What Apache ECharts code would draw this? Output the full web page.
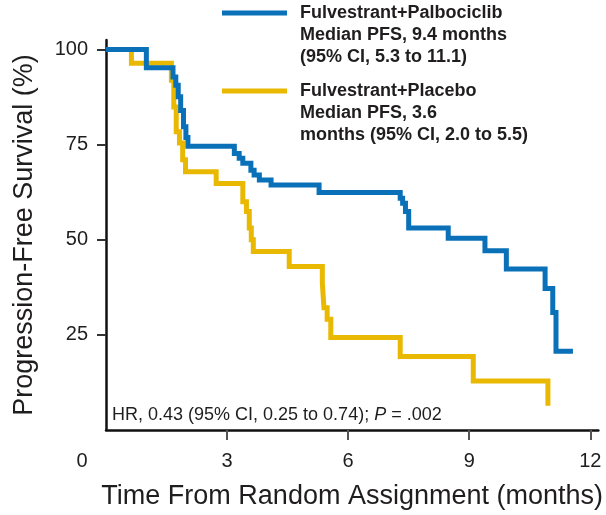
<!DOCTYPE html>
<html>
<head>
<meta charset="utf-8">
<script src="https://cdn.jsdelivr.net/npm/echarts@6/dist/echarts.min.js"></script>
<style>
  html, body { margin: 0; padding: 0; background: #ffffff; }
  #chart { width: 606px; height: 515px; }
</style>
</head>
<body>
<div id="chart"></div>
<script>
// Kaplan-Meier step data: time (months) at which each survival level starts
const palboTime = [0, 1.00, 1.66, 1.73, 1.79, 1.85, 1.92, 1.98, 2.03, 3.18, 3.30, 3.39, 3.59, 3.67, 3.80, 4.09, 5.28, 7.29, 7.35, 7.42, 7.50, 8.48, 9.39, 9.92, 10.88, 11.07, 11.15, 11.57];
const palboSurv = [100, 95.2, 92.8, 90.6, 87.6, 84.0, 79.7, 76.9, 74.6, 72.7, 71.4, 70.1, 68.3, 67.0, 65.7, 64.4, 62.4, 60.9, 59.6, 57.4, 53.1, 50.4, 47.1, 42.3, 37.2, 30.9, 20.7, 20.7];

const placeboTime = [0, 0.63, 1.62, 1.68, 1.74, 1.82, 1.90, 1.97, 2.73, 3.39, 3.48, 3.55, 3.60, 3.65, 4.54, 5.36, 5.40, 5.48, 5.57, 7.29, 9.10, 10.95];
const placeboSurv = [100, 96.4, 91.9, 84.9, 78.4, 75.4, 71.0, 67.9, 64.8, 60.0, 57.4, 53.1, 50.0, 46.9, 43.0, 38.7, 32.1, 29.1, 24.3, 19.3, 12.9, 6.4];

const xTicks = [0, 3, 6, 9, 12];
const yTicks = [25, 50, 75, 100];

const armNames = ['Fulvestrant+Palbociclib', 'Fulvestrant+Placebo'];
const armNotes = [
  ['Fulvestrant+Palbociclib', 'Median PFS, 9.4 months', '(95% CI, 5.3 to 11.1)'],
  ['Fulvestrant+Placebo', 'Median PFS, 3.6', 'months (95% CI, 2.0 to 5.5)']
];
const armColors = ['#0A71B9', '#E9B800'];

const xTitle = 'Time From Random Assignment (months)';
const yTitle = 'Progression-Free Survival (%)';
const hrPre = 'HR, 0.43 (95% CI, 0.25 to 0.74); ';
const hrP = 'P';
const hrPost = ' = .002';

const FONT = '"Liberation Sans", Arial, sans-serif';
const INK = '#1f1d1e';

function pairs(ts, ss) { return ts.map((t, i) => [t, ss[i]]); }

// The legend text is centred on its swatch, so two empty lines above the
// three-line note put the swatch level with the arm name.
function legendFor(i, top) {
  return {
    data: [armNames[i]],
    left: 222,
    top: top,
    padding: 0,
    orient: 'vertical',
    icon: 'rect',
    itemWidth: 65,
    itemHeight: 5,
    selectedMode: false,
    formatter: () => '{g|}\n{g|}\n' + armNotes[i].map(s => '{t|' + s + '}').join('\n'),
    textStyle: {
      fontFamily: FONT, fontSize: 18, fontWeight: 'bold', lineHeight: 22, color: INK,
      rich: {
        g: { fontSize: 18, lineHeight: 22 },
        t: { fontFamily: FONT, fontSize: 18, fontWeight: 'bold', lineHeight: 22, color: INK, padding: [0, 0, 0, 8] }
      }
    }
  };
}

const chart = echarts.init(document.getElementById('chart'), null, { renderer: 'canvas' });

chart.setOption({
  backgroundColor: '#ffffff',
  animation: false,
  grid: { left: 106, right: 5, top: 40, bottom: 83.5, containLabel: false },
  legend: [legendFor(0, -42), legendFor(1, 36)],
  xAxis: {
    type: 'value',
    min: 0, max: 12.2,
    name: xTitle,
    nameLocation: 'middle',
    nameGap: 53,
    nameTextStyle: { fontFamily: FONT, fontSize: 27, color: INK },
    axisLine: { show: true, onZero: false, lineStyle: { color: '#111', width: 2.5 } },
    axisTick: { show: true, length: 10, customValues: [3, 6, 9, 12], lineStyle: { color: '#555', width: 2 } },
    axisLabel: {
      customValues: xTicks,
      margin: 21,
      fontFamily: FONT, fontSize: 20, color: INK,
      formatter: v => v === 0 ? '{z|0}' : String(v),
      rich: { z: { fontFamily: FONT, fontSize: 20, color: INK, padding: [0, 48, 0, 0] } }
    },
    splitLine: { show: false }
  },
  yAxis: {
    type: 'value',
    min: 0, max: 102.5,
    name: yTitle,
    nameLocation: 'middle',
    nameGap: 68,
    nameTextStyle: { fontFamily: FONT, fontSize: 27, color: INK },
    axisLine: { show: true, onZero: false, lineStyle: { color: '#111', width: 2.5 } },
    axisTick: { show: true, length: 9, customValues: yTicks, lineStyle: { color: '#333', width: 2 } },
    axisLabel: {
      customValues: yTicks,
      margin: 18,
      fontFamily: FONT, fontSize: 20, color: INK
    },
    splitLine: { show: false }
  },
  graphic: [{
    type: 'text',
    left: 112,
    top: 406,
    style: {
      text: '{n|' + hrPre + '}{i|' + hrP + '}{n|' + hrPost + '}',
      rich: {
        n: { fontFamily: FONT, fontSize: 18, fill: INK },
        i: { fontFamily: FONT, fontSize: 18, fontStyle: 'italic', fill: INK }
      }
    }
  }],
  series: [
    {
      name: armNames[0], type: 'line', step: 'end',
      data: pairs(palboTime, palboSurv),
      showSymbol: false, clip: false, z: 3,
      color: armColors[0],
      lineStyle: { color: armColors[0], width: 5, join: 'miter' }
    },
    {
      name: armNames[1], type: 'line', step: 'end',
      data: pairs(placeboTime, placeboSurv),
      showSymbol: false, clip: false, z: 2,
      color: armColors[1],
      lineStyle: { color: armColors[1], width: 5, join: 'miter' }
    }
  ]
});
</script>
</body>
</html>
